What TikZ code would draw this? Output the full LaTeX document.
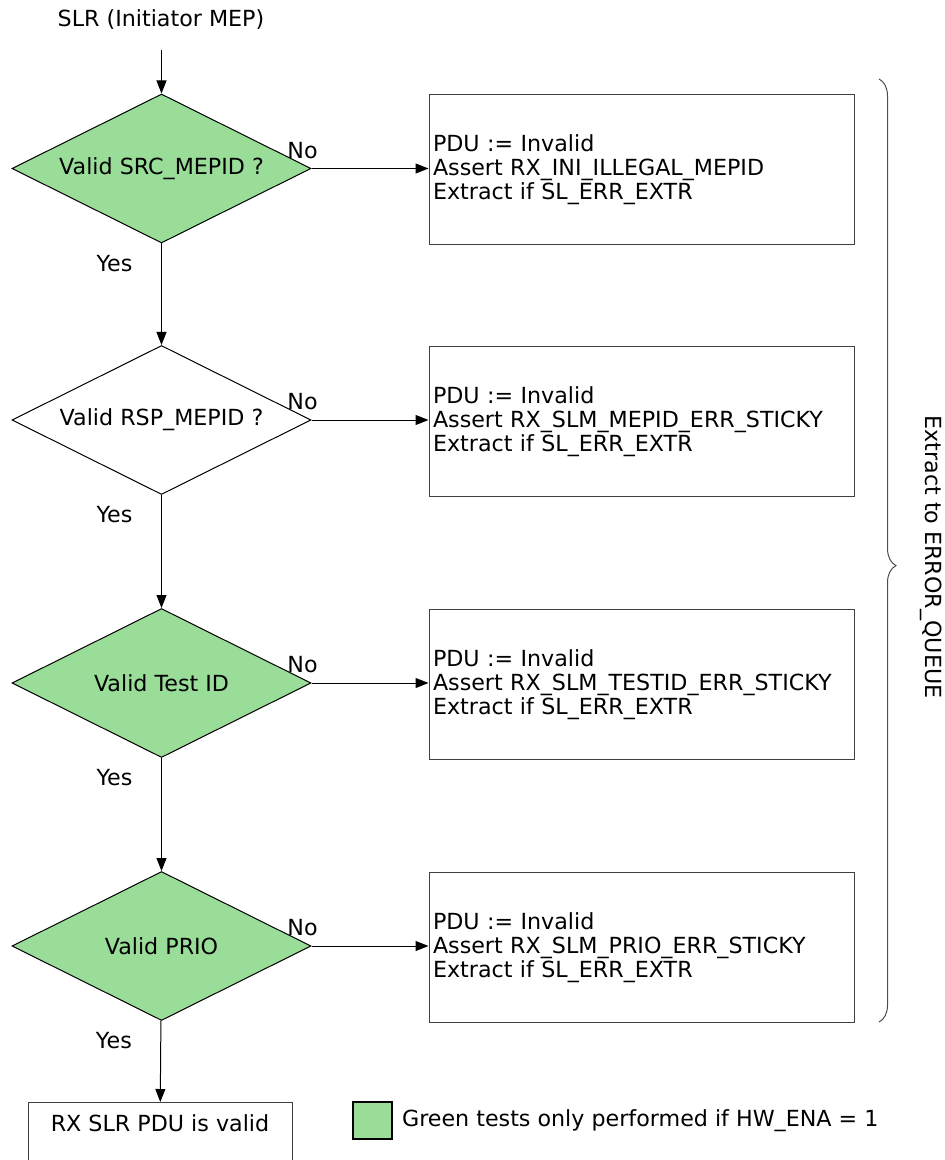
\documentclass[tikz,border=0pt]{standalone}
\usepackage{fontspec}
\setmainfont{DejaVu Sans}
\usetikzlibrary{arrows.meta,positioning,shapes.geometric,decorations.pathreplacing}
\definecolor{testgreen}{RGB}{153,221,153}

\begin{document}
\begin{tikzpicture}[x=0.5pt,y=-0.5pt,every node/.style={font=\fontsize{11.1}{12}\selectfont},
  test/.style={draw,diamond,aspect=2,minimum width=149.5pt,minimum height=74.5pt,inner sep=0pt,line width=0.5pt},
  errbox/.style={draw=black!75,rectangle,text width=208.5pt,inner xsep=2pt,minimum height=75pt,align=left,line width=0.5pt},
  flow/.style={-{Triangle[length=6.5pt,width=5pt]},line width=0.5pt},
  nolabel/.style={pos=0,xshift=-4.5pt,yshift=9pt},
  yeslabel/.style={pos=0,xshift=-23.5pt,yshift=-10pt}]
  \useasboundingbox (0,0) rectangle (945,1160);
  \clip (0,0) rectangle (945,1160);

  \node (title) at (161,20) {SLR (Initiator MEP)};
  \coordinate (in) at (161.5,50);

  % tests
  \node[test,fill=testgreen] (src) at (161.5,168.5) {Valid SRC\_MEPID ?};
  \node[test] (rsp) at (161.5,420) {Valid RSP\_MEPID ?};
  \node[test,fill=testgreen] (tid) at (161.5,683) {Valid Test ID};
  \node[test,fill=testgreen] (prio) at (161.5,946) {Valid PRIO};

  % error actions
  \node[errbox] (srcerr) at (641.5,170) {PDU := Invalid\\Assert RX\_INI\_ILLEGAL\_MEPID\\Extract if SL\_ERR\_EXTR};
  \node[errbox] (rsperr) at (641.5,421.5) {PDU := Invalid\\Assert RX\_SLM\_MEPID\_ERR\_STICKY\\Extract if SL\_ERR\_EXTR};
  \node[errbox] (tiderr) at (641.5,684.5) {PDU := Invalid\\Assert RX\_SLM\_TESTID\_ERR\_STICKY\\Extract if SL\_ERR\_EXTR};
  \node[errbox] (prioerr) at (641.5,947.5) {PDU := Invalid\\Assert RX\_SLM\_PRIO\_ERR\_STICKY\\Extract if SL\_ERR\_EXTR};

  \node[draw=black!75,line width=0.5pt,minimum width=132pt,inner ysep=0pt,text height=14.5pt,text depth=20pt,anchor=north] (ok) at (160,1102) {RX SLR PDU is valid};

  \draw[flow] (in) -- (src);
  \draw[flow] (src) -- node[yeslabel]{Yes} (rsp);
  \draw[flow] (rsp) -- node[yeslabel]{Yes} (tid);
  \draw[flow] (tid) -- node[yeslabel]{Yes} (prio);
  \draw[flow] (prio) -- node[yeslabel]{Yes} (ok);

  \draw[flow] (src.east) -- node[nolabel]{No} (src.east -| srcerr.west);
  \draw[flow] (rsp.east) -- node[nolabel]{No} (rsp.east -| rsperr.west);
  \draw[flow] (tid.east) -- node[nolabel]{No} (tid.east -| tiderr.west);
  \draw[flow] (prio.east) -- node[nolabel]{No} (prio.east -| prioerr.west);

  % brace and legend
  \draw[decorate,decoration={brace,amplitude=8.5pt,aspect=0.516},black!70,line width=0.5pt] (879,79) -- (879,1022);
  \node[rotate=-90] (queue) at (931,557) {Extract to ERROR\_QUEUE};

  \node[draw,line width=1pt,fill=testgreen,minimum width=19.5pt,minimum height=18.5pt,inner sep=0pt] (key) at (372.5,1120.5) {};
  \node[right=1pt of key] (keytext) {Green tests only performed if HW\_ENA = 1};
\end{tikzpicture}
\end{document}
